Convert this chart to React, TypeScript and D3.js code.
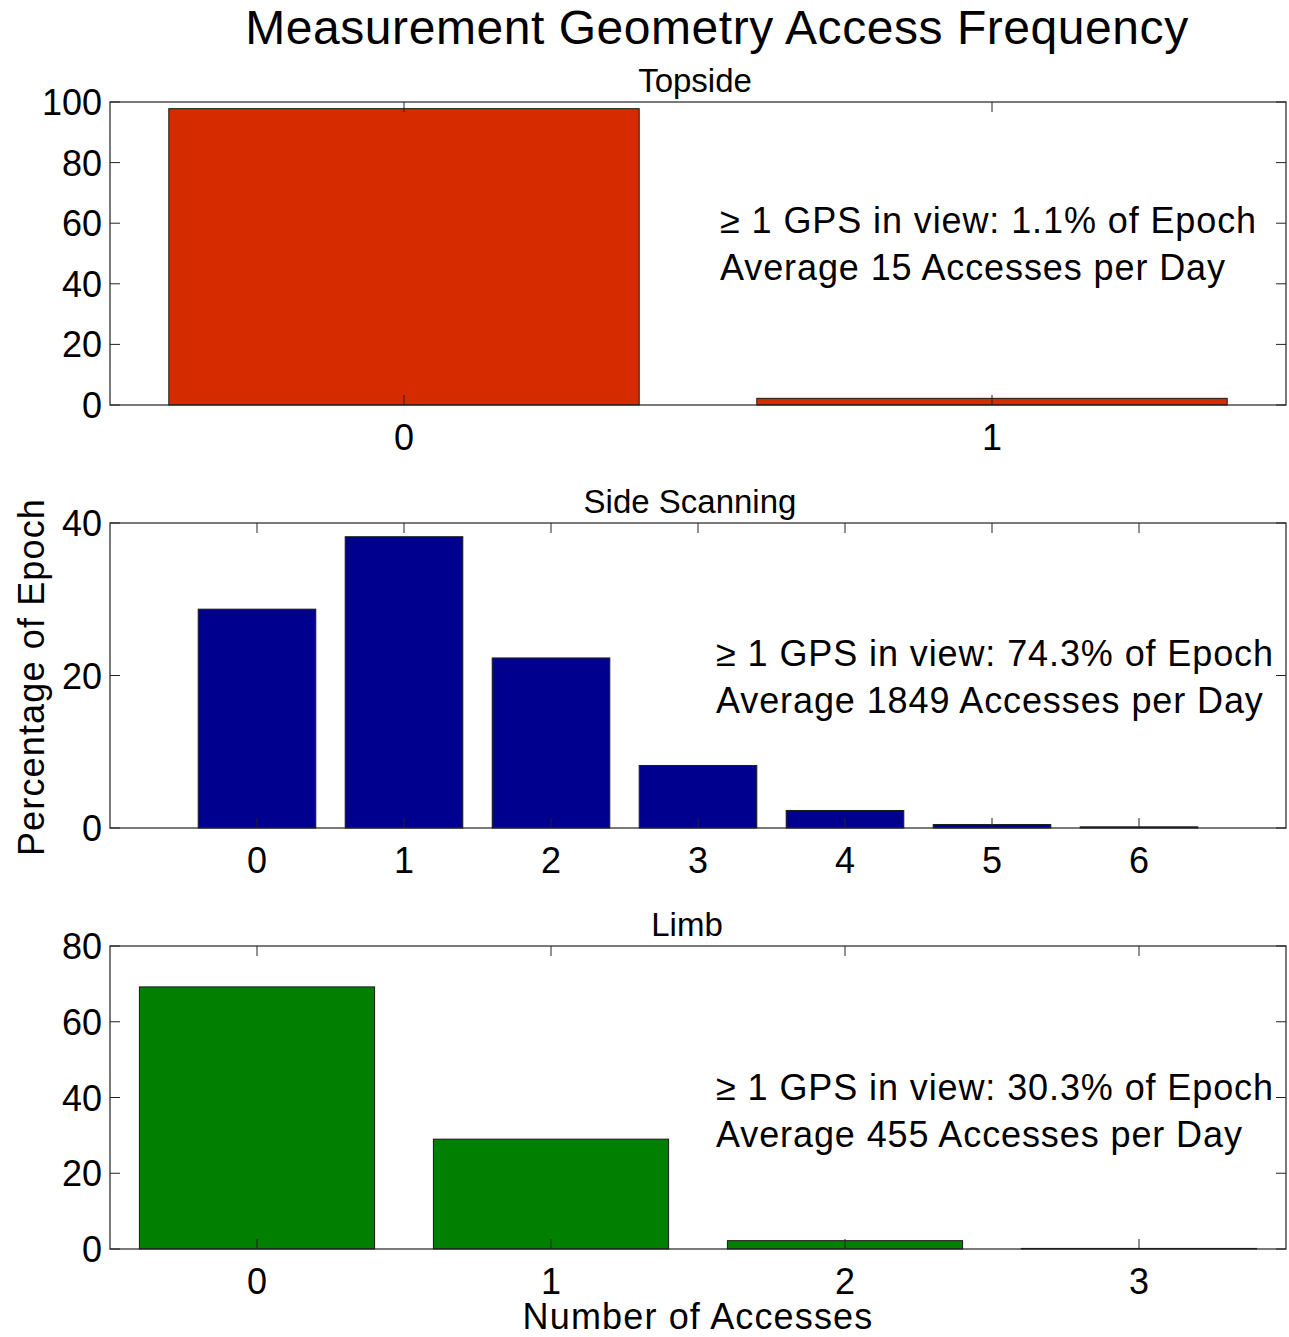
import React from "react";
import * as d3 from "d3";

// Histogram of simultaneous GPS accesses per measurement geometry
const topsideCounts = [0, 1];
const topsideValues = [97.8, 2.2];
const topsideYTicks = [0, 20, 40, 60, 80, 100];

const sideCounts = [0, 1, 2, 3, 4, 5, 6];
const sideValues = [28.7, 38.2, 22.3, 8.2, 2.3, 0.45, 0.15];
const sideYTicks = [0, 20, 40];

const limbCounts = [0, 1, 2, 3];
const limbValues = [69.2, 29.0, 2.2, 0.15];
const limbYTicks = [0, 20, 40, 60, 80];

const panelTitles = ["Topside", "Side Scanning", "Limb"];
const coverageLines = [
  "\u2265 1 GPS in view: 1.1% of Epoch",
  "\u2265 1 GPS in view: 74.3% of Epoch",
  "\u2265 1 GPS in view: 30.3% of Epoch",
];
const averageLines = [
  "Average 15 Accesses per Day",
  "Average 1849 Accesses per Day",
  "Average 455 Accesses per Day",
];

const FONT = "'Liberation Sans', Arial, Helvetica, sans-serif";
const W = 1289;
const H = 1337;
const LEFT = 110;
const RIGHT = 1286;

type PanelProps = {
  counts: number[];
  values: number[];
  yTicks: number[];
  yMax: number;
  xPad: number;
  top: number;
  bottom: number;
  color: string;
  title: string;
  titleX: number;
  line1: string;
  line2: string;
  textX: number;
  textY: number;
};

function Panel(p: PanelProps) {
  const x = d3
    .scaleLinear()
    .domain([d3.min(p.counts)! - p.xPad, d3.max(p.counts)! + p.xPad])
    .range([LEFT, RIGHT]);
  const y = d3.scaleLinear().domain([0, p.yMax]).range([p.bottom, p.top]);
  const barW = x(0.8) - x(0);
  const tick = 10;
  const axisColor = "#222";
  return (
    <g>
      <text
        x={p.titleX}
        y={p.top - 10}
        textAnchor="middle"
        fontSize={33}
        fontFamily={FONT}
        fill="#000"
      >
        {p.title}
      </text>
      {p.values.map((v, i) => (
        <rect
          key={i}
          x={x(p.counts[i]) - barW / 2}
          y={y(v)}
          width={barW}
          height={y(0) - y(v)}
          fill={p.color}
          stroke="#1a1a1a"
          strokeWidth={1}
        />
      ))}
      {/* box */}
      <rect
        x={LEFT}
        y={p.top}
        width={RIGHT - LEFT}
        height={p.bottom - p.top}
        fill="none"
        stroke={axisColor}
        strokeWidth={1.2}
      />
      {/* y ticks, inward on both sides */}
      {p.yTicks.map((t) => (
        <g key={"y" + t}>
          <line x1={LEFT} x2={LEFT + tick} y1={y(t)} y2={y(t)} stroke={axisColor} strokeWidth={1} />
          <line x1={RIGHT} x2={RIGHT - tick} y1={y(t)} y2={y(t)} stroke={axisColor} strokeWidth={1} />
          <text
            x={LEFT - 8}
            y={y(t) + 13}
            textAnchor="end"
            fontSize={36}
            fontFamily={FONT}
            fill="#000"
          >
            {t}
          </text>
        </g>
      ))}
      {/* x ticks, inward on top and bottom */}
      {p.counts.map((c) => (
        <g key={"x" + c}>
          <line x1={x(c)} x2={x(c)} y1={p.top} y2={p.top + tick} stroke={axisColor} strokeWidth={1} />
          <line x1={x(c)} x2={x(c)} y1={p.bottom} y2={p.bottom - tick} stroke={axisColor} strokeWidth={1} />
          <text
            x={x(c)}
            y={p.bottom + 45}
            textAnchor="middle"
            fontSize={36}
            fontFamily={FONT}
            fill="#000"
          >
            {c}
          </text>
        </g>
      ))}
      <text x={p.textX} y={p.textY} fontSize={36} fontFamily={FONT} letterSpacing={0.9} fill="#000">
        {p.line1}
      </text>
      <text x={p.textX} y={p.textY + 47} fontSize={36} fontFamily={FONT} letterSpacing={0.9} fill="#000">
        {p.line2}
      </text>
    </g>
  );
}

export default function App() {
  return (
    <svg
      width={W}
      height={H}
      style={{ position: "absolute", left: 0, top: 0, background: "#fff" }}
    >
      <rect width={W} height={H} fill="#fff" />
      <text
        x={717}
        y={44}
        textAnchor="middle"
        fontSize={48}
        fontFamily={FONT}
        letterSpacing={0.55}
        fill="#000"
      >
        Measurement Geometry Access Frequency
      </text>
      <Panel
        counts={topsideCounts}
        values={topsideValues}
        yTicks={topsideYTicks}
        yMax={100}
        xPad={0.5}
        top={102}
        bottom={405}
        color="#d62a00"
        title={panelTitles[0]}
        titleX={695}
        line1={coverageLines[0]}
        line2={averageLines[0]}
        textX={720}
        textY={233}
      />
      <Panel
        counts={sideCounts}
        values={sideValues}
        yTicks={sideYTicks}
        yMax={40}
        xPad={1}
        top={523}
        bottom={828}
        color="#00008f"
        title={panelTitles[1]}
        titleX={690}
        line1={coverageLines[1]}
        line2={averageLines[1]}
        textX={716}
        textY={666}
      />
      <Panel
        counts={limbCounts}
        values={limbValues}
        yTicks={limbYTicks}
        yMax={80}
        xPad={0.5}
        top={946}
        bottom={1249}
        color="#007f00"
        title={panelTitles[2]}
        titleX={687}
        line1={coverageLines[2]}
        line2={averageLines[2]}
        textX={716}
        textY={1100}
      />
      <text
        transform="translate(44,677) rotate(-90)"
        textAnchor="middle"
        fontSize={36}
        fontFamily={FONT}
        letterSpacing={1.15}
        fill="#000"
      >
        Percentage of Epoch
      </text>
      <text
        x={698}
        y={1329}
        textAnchor="middle"
        fontSize={36}
        fontFamily={FONT}
        letterSpacing={1.15}
        fill="#000"
      >
        Number of Accesses
      </text>
    </svg>
  );
}
